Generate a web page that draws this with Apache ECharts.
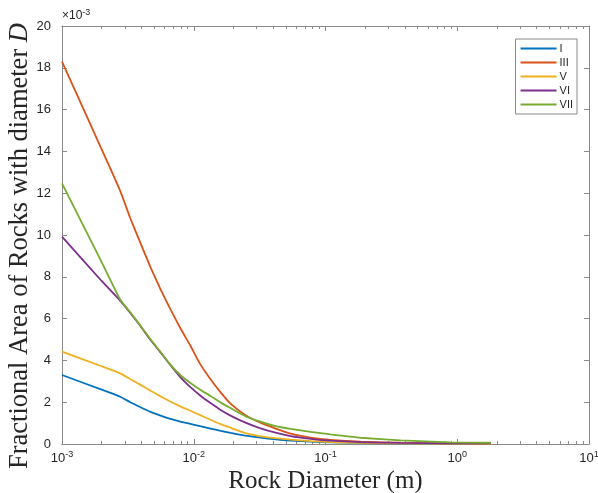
<!DOCTYPE html>
<html>
<head>
<meta charset="utf-8">
<script src="https://cdn.jsdelivr.net/npm/echarts@6/dist/echarts.min.js"></script>
<style>
  html, body { margin: 0; padding: 0; background: #fff; }
  #main { width: 598px; height: 493px; }
</style>
</head>
<body>
<div id="main"></div>
<script>
// rock diameter (m), shared by all curves
var diameters = [0.001, 0.002, 0.00277, 0.0033, 0.00395, 0.0047, 0.0056, 0.00665, 0.0079, 0.00944,
  0.0112, 0.0134, 0.016, 0.019, 0.0247, 0.0321, 0.0418, 0.0543, 0.0771, 0.109, 0.185, 0.372, 0.89, 1.8];

// fractional area, x 10^-3
var areaI = [3.30, 2.60, 2.26, 2.00, 1.76, 1.54, 1.36, 1.20, 1.07, 0.96,
  0.85, 0.74, 0.63, 0.53, 0.40, 0.30, 0.22, 0.16, 0.11, 0.08, 0.05, 0.03, 0.02, 0.015];
var areaIII = [18.3, 14.1, 12.1, 10.8, 9.6, 8.45, 7.4, 6.45, 5.55, 4.7,
  3.82, 3.1, 2.47, 1.93, 1.38, 1.02, 0.74, 0.50, 0.31, 0.20, 0.11, 0.06, 0.03, 0.02];
var areaV = [4.42, 3.72, 3.38, 3.10, 2.83, 2.55, 2.28, 2.03, 1.80, 1.59,
  1.38, 1.16, 0.95, 0.78, 0.52, 0.37, 0.28, 0.21, 0.14, 0.09, 0.05, 0.03, 0.02, 0.02];
var areaVI = [9.92, 7.80, 6.85, 6.27, 5.63, 4.98, 4.38, 3.78, 3.20, 2.72,
  2.32, 1.96, 1.63, 1.36, 1.02, 0.75, 0.54, 0.38, 0.25, 0.16, 0.09, 0.05, 0.03, 0.03];
var areaVII = [12.47, 8.70, 6.90, 6.30, 5.65, 5.00, 4.40, 3.80, 3.30, 2.92,
  2.60, 2.30, 1.98, 1.72, 1.33, 1.07, 0.85, 0.72, 0.58, 0.46, 0.30, 0.17, 0.08, 0.06];

var seriesNames = ['I', 'III', 'V', 'VI', 'VII'];
var seriesValues = [areaI, areaIII, areaV, areaVI, areaVII];
var colors = ['#0072BD', '#D95319', '#EDB120', '#7E2F8E', '#77AC30'];

var majorTicks = [0.001, 0.01, 0.1, 1, 10];
var minorTicks = [];
for (var e = -3; e < 1; e++) {
  for (var k = 2; k <= 9; k++) {
    minorTicks.push(k * Math.pow(10, e));
  }
}

var axisGray = '#8a8a8a';
var textGray = '#262626';

var chart = echarts.init(document.getElementById('main'));

function logAxis(pos, withLabels, ticks, tickLen) {
  return {
    type: 'log',
    logBase: 10,
    min: 0.001,
    max: 10,
    position: pos,
    axisLine: { show: true, onZero: false, lineStyle: { color: axisGray, width: 1 } },
    axisTick: { show: true, inside: true, length: tickLen, customValues: ticks, lineStyle: { color: axisGray } },
    axisLabel: {
      show: withLabels,
      customValues: majorTicks,
      margin: 6,
      color: textGray,
      fontFamily: 'Liberation Sans',
      formatter: function (v) {
        var p = Math.round(Math.log10(v));
        return '{b|10}{s|' + p + '}';
      },
      rich: {
        b: { fontSize: 13, fontFamily: 'Liberation Sans', color: textGray },
        s: { fontSize: 9, fontFamily: 'Liberation Sans', color: textGray, padding: [0, 0, 7, 0] }
      }
    },
    splitLine: { show: false }
  };
}

var xAxes = [
  logAxis('bottom', true, majorTicks, 5),
  logAxis('bottom', false, minorTicks, 3),
  logAxis('top', false, majorTicks, 5),
  logAxis('top', false, minorTicks, 3)
];
xAxes[0].name = 'Rock Diameter (m)';
xAxes[0].nameLocation = 'middle';
xAxes[0].nameGap = 23;
xAxes[0].nameTextStyle = { fontFamily: 'Liberation Serif', fontSize: 25, color: textGray };

function linAxis(pos, withLabels) {
  return {
    type: 'value',
    min: 0,
    max: 20,
    interval: 2,
    position: pos,
    axisLine: { show: true, onZero: false, lineStyle: { color: axisGray, width: 1 } },
    axisTick: { show: true, inside: true, length: 5, lineStyle: { color: axisGray } },
    axisLabel: { show: withLabels, margin: 11, fontSize: 13, color: textGray, fontFamily: 'Liberation Sans' },
    splitLine: { show: false }
  };
}

var yAxes = [linAxis('left', true), linAxis('right', false)];
yAxes[0].name = '{a|\u00d710}{s|-3}';
yAxes[0].nameLocation = 'end';
yAxes[0].nameGap = 3;
yAxes[0].nameTextStyle = {
  align: 'left',
  rich: {
    a: { fontSize: 12, fontFamily: 'Liberation Sans', color: textGray },
    s: { fontSize: 9, fontFamily: 'Liberation Sans', color: textGray, padding: [0, 0, 6, 0] }
  }
};
// extra axis only for the title
yAxes.push({
  type: 'value',
  min: 0,
  max: 20,
  position: 'left',
  axisLine: { show: false },
  axisTick: { show: false },
  axisLabel: { show: false },
  splitLine: { show: false },
  name: '{r|Fractional Area of Rocks with diameter }{i|D}',
  nameLocation: 'middle',
  nameGap: 28,
  nameTextStyle: {
    padding: [0, 22, 0, 0],
    rich: {
      r: { fontFamily: 'Liberation Serif', fontSize: 26.5, color: textGray },
      i: { fontFamily: 'Liberation Serif', fontSize: 26.5, fontStyle: 'italic', color: textGray }
    }
  }
});

var series = [];
for (var i = 0; i < seriesNames.length; i++) {
  var pts = [];
  for (var j = 0; j < diameters.length; j++) {
    pts.push([diameters[j], seriesValues[i][j]]);
  }
  series.push({
    name: seriesNames[i],
    type: 'line',
    xAxisIndex: 0,
    yAxisIndex: 0,
    data: pts,
    smooth: 0.15,
    showSymbol: false,
    symbol: 'none',
    lineStyle: { color: colors[i], width: 1.8 },
    itemStyle: { color: colors[i] }
  });
}

var option = {
  backgroundColor: '#fff',
  animation: false,
  grid: { left: 62, right: 9, top: 26, bottom: 49, outerBoundsMode: 'none' },
  legend: {
    orient: 'vertical',
    right: 21,
    top: 39,
    icon: 'rect',
    itemWidth: 36,
    itemHeight: 2,
    itemGap: 3,
    padding: [4, 4, 4, 5],
    borderColor: axisGray,
    borderWidth: 1,
    textStyle: { fontSize: 11, fontFamily: 'Liberation Sans', color: textGray, padding: [0, 0, 0, -2] },
    data: seriesNames
  },
  xAxis: xAxes,
  yAxis: yAxes,
  series: series
};

chart.setOption(option);
</script>
</body>
</html>
